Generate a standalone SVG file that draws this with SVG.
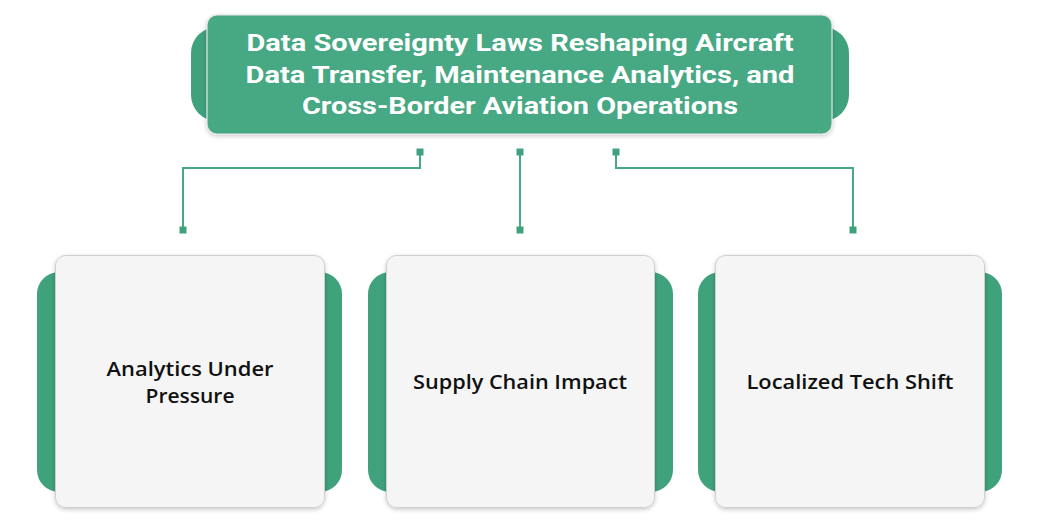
<svg xmlns="http://www.w3.org/2000/svg" width="1041" height="531" viewBox="0 0 1041 531">
<defs>
<filter id="sh" x="-10%" y="-10%" width="120%" height="125%">
<feDropShadow dx="0" dy="1.5" stdDeviation="2" flood-color="#000" flood-opacity="0.22"/>
</filter>
<style>
.back{fill:#3FA27D;}
.title{fill:#47A884;stroke:#E6E6E6;stroke-width:1.2;filter:url(#sh);}
.card{fill:#F5F5F5;stroke:#CFCFCF;stroke-width:1;filter:url(#sh);}
.tt{font-family:"Roboto","Liberation Sans",sans-serif;font-weight:700;font-size:23px;fill:#FFFFFF;text-anchor:middle;}
.ct{font-family:"Open Sans","Liberation Sans",sans-serif;font-weight:600;font-size:20px;fill:#111111;text-anchor:middle;}
.ln{fill:none;stroke:#47A884;stroke-width:2;}
.dot{fill:#3FA27D;}
</style>
</defs>
<rect width="1041" height="531" fill="#FFFFFF"/>
<g id="title">
<rect class="back" x="191" y="27" width="658" height="94" rx="26"/>
<rect class="title" x="207" y="15" width="625" height="119" rx="10"/>
<text class="tt" x="520" y="51" textLength="547" lengthAdjust="spacingAndGlyphs">Data Sovereignty Laws Reshaping Aircraft</text>
<text class="tt" x="520" y="82.5" textLength="549" lengthAdjust="spacingAndGlyphs">Data Transfer, Maintenance Analytics, and</text>
<text class="tt" x="520" y="114" textLength="436" lengthAdjust="spacingAndGlyphs">Cross-Border Aviation Operations</text>
</g>
<g id="connectors">
<polyline class="ln" points="420,152 420,168 183,168 183,230"/>
<polyline class="ln" points="520,152 520,230"/>
<polyline class="ln" points="616,152 616,168 853,168 853,230"/>
<rect class="dot" x="416.5" y="148.5" width="7" height="7"/>
<rect class="dot" x="516.5" y="148.5" width="7" height="7"/>
<rect class="dot" x="612.5" y="148.5" width="7" height="7"/>
<rect class="dot" x="179.5" y="226.5" width="7" height="7"/>
<rect class="dot" x="516.5" y="226.5" width="7" height="7"/>
<rect class="dot" x="849.5" y="226.5" width="7" height="7"/>
</g>
<g id="card1">
<rect class="back" x="37" y="272" width="305" height="220" rx="22"/>
<rect class="card" x="55.5" y="255.5" width="269" height="252" rx="10"/>
<text class="ct" x="190" y="376" textLength="167" lengthAdjust="spacingAndGlyphs">Analytics Under</text>
<text class="ct" x="190" y="403" textLength="89" lengthAdjust="spacingAndGlyphs">Pressure</text>
</g>
<g id="card2">
<rect class="back" x="368" y="272" width="305" height="220" rx="22"/>
<rect class="card" x="386.5" y="255.5" width="268" height="252" rx="10"/>
<text class="ct" x="520" y="389" textLength="214" lengthAdjust="spacingAndGlyphs">Supply Chain Impact</text>
</g>
<g id="card3">
<rect class="back" x="698" y="272" width="304" height="220" rx="22"/>
<rect class="card" x="715.5" y="255.5" width="269" height="252" rx="10"/>
<text class="ct" x="850" y="389" textLength="207" lengthAdjust="spacingAndGlyphs">Localized Tech Shift</text>
</g>
</svg>
